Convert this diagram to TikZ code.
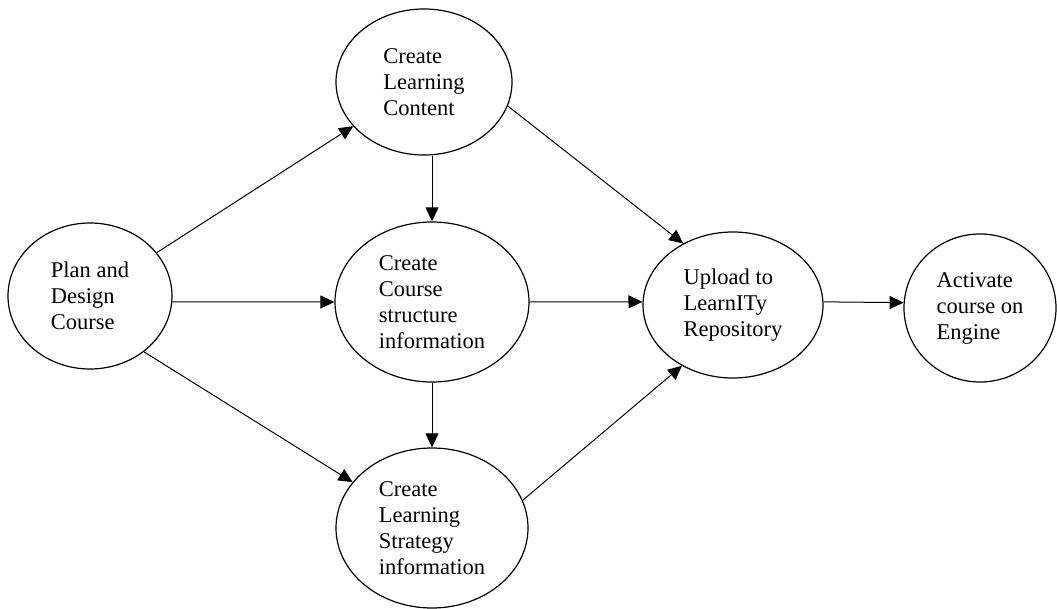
\documentclass[tikz,border=0pt]{standalone}
\usepackage{fontspec}
\setmainfont{Liberation Serif}
\usetikzlibrary{shapes.geometric,arrows.meta}

\tikzset{every picture/.style={line width=1.2pt}}
\tikzset{
  task/.style={draw, ellipse, inner sep=0pt, align=left,
    font=\fontsize{22.5}{26}\selectfont},
  flow/.style={-{Triangle[length=14pt,width=13pt]}, line width=1pt}
}

\begin{document}
\begin{tikzpicture}[x=1pt,y=1pt,yscale=-1,xscale=1]
\useasboundingbox (0,0) rectangle (1057,609);

% Ellipses
\node[task, minimum width=164pt, minimum height=146pt] (plan) at (90,296) {Plan and\\Design\\Course};
\node[task, minimum width=176pt, minimum height=146pt] (content) at (424,82) {Create\\Learning\\Content};
\node[task, minimum width=194pt, minimum height=160pt] (struct) at (432,302) {Create\\Course\\structure\\information};
\node[task, minimum width=192pt, minimum height=160pt] (strat) at (432,528) {Create\\Learning\\Strategy\\information};
\node[task, minimum width=180pt, minimum height=146pt] (upload) at (733,305) {Upload to\\LearnITy\\Repository};
\node[task, minimum width=152pt, minimum height=148pt] (activate) at (980,308) {Activate\\course on\\Engine};

% Arrows
\draw[flow] (plan.33) -- (content.212);
\draw[flow] (plan.-4) -- (struct.west);
\draw[flow] (plan.-46) -- (strat.150);
\draw[flow] (content.south -| struct.north) -- (struct.north);
\draw[flow] (struct.south) -- (strat.north);
\draw[flow] (content.-16) -- (upload.129);
\draw[flow] (struct.east) -- (upload.178);
\draw[flow] (strat.17) -- (upload.230);
\draw[flow] (upload.2) -- (activate.176);

\end{tikzpicture}
\end{document}
